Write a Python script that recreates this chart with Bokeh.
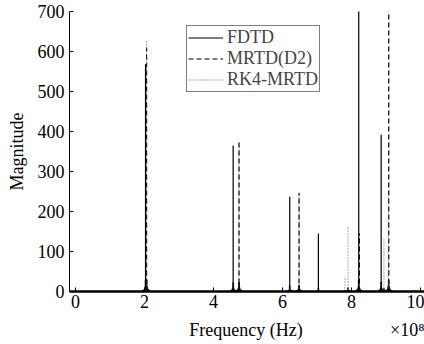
from bokeh.plotting import figure
from bokeh.models import Range1d, FixedTicker, Legend, LegendItem, LinearAxis
from bokeh.embed import file_html
from bokeh.resources import INLINE

# Peak positions (x 1e8 Hz) and magnitudes
fdtd_f = [2.03, 4.57, 6.21, 7.04, 8.21, 8.86]
fdtd_m = [568, 365, 237, 145, 760, 392]
mrtd_f = [2.06, 4.74, 6.48, 8.23, 9.08]
mrtd_m = [610, 377, 247, 145, 760]
rk4_f = [2.06, 4.74, 6.48, 7.81, 7.90, 8.94, 9.07]
rk4_m = [627, 375, 245, 35, 160, 135, 240]

x_ticks = [0, 2, 4, 6, 8, 10]
y_ticks = [0, 100, 200, 300, 400, 500, 600, 700]
x_title = "Frequency (Hz)"
x_scale = "×10⁸"
y_title = "Magnitude"

FONT = "Liberation Serif"

p = figure(width=424, height=344, output_backend="svg", toolbar_location=None,
           x_range=Range1d(-0.174, 10.116), y_range=Range1d(0, 700),
           min_border_left=69, min_border_right=0, min_border_top=11,
           min_border_bottom=53)
p.outline_line_color = None
p.grid.visible = False
p.background_fill_color = "white"

def base_shapes(fs, ms):
    xs, ys = [], []
    w = 0.13
    for f, m in zip(fs, ms):
        sh = min(m * 0.06, 28)
        xs.append([f - w, f - w * 0.3, f - w * 0.1, f - 0.015, f + 0.015,
                   f + w * 0.1, f + w * 0.3, f + w])
        ys.append([0, sh * 0.2, sh * 0.5, sh, sh, sh * 0.5, sh * 0.2, 0])
    return xs, ys

for fs, ms in [(fdtd_f, fdtd_m), (mrtd_f, mrtd_m), (rk4_f, rk4_m)]:
    bx, by = base_shapes(fs, ms)
    p.patches(bx, by, fill_color="black", line_color="black", line_width=0.5)

r1 = p.segment(x0=fdtd_f, y0=[0] * len(fdtd_f), x1=fdtd_f, y1=fdtd_m,
               line_color="black", line_width=1.2)
r2 = p.segment(x0=mrtd_f, y0=[0] * len(mrtd_f), x1=mrtd_f, y1=mrtd_m,
               line_color="black", line_width=1.2, line_dash="5 3")
r3 = p.segment(x0=rk4_f, y0=[0] * len(rk4_f), x1=rk4_f, y1=rk4_m,
               line_color="#555555", line_width=1.0, line_dash="1 2")

legend = Legend(items=[LegendItem(label="FDTD", renderers=[r1]),
                       LegendItem(label="MRTD(D2)", renderers=[r2]),
                       LegendItem(label="RK4-MRTD", renderers=[r3])],
                location=(117, 199))
legend.label_text_font = FONT
legend.label_text_font_size = "18px"
legend.label_height = 19
legend.glyph_height = 19
legend.glyph_width = 35
legend.label_standoff = 4
legend.spacing = 0
legend.padding = 1
legend.margin = 0
legend.border_line_color = "black"
legend.border_line_width = 1.5
legend.background_fill_alpha = 1
p.add_layout(legend, "center")

for ax in (p.xaxis, p.yaxis):
    ax.major_label_text_font = FONT
    ax.major_label_text_font_size = "18px"
    ax.axis_label_text_font = FONT
    ax.axis_label_text_font_size = "18px"
    ax.axis_label_text_font_style = "normal"
    ax.major_tick_in = 4
    ax.major_tick_out = 0
    ax.minor_tick_in = 0
    ax.minor_tick_out = 0
    ax.axis_line_color = "black"
    ax.major_tick_line_color = "black"
    ax.major_label_text_color = "black"
    ax.axis_label_text_color = "black"

p.xaxis.ticker = FixedTicker(ticks=x_ticks)
p.yaxis.ticker = FixedTicker(ticks=y_ticks)
p.xaxis.axis_line_width = 2.5
p.xaxis.major_label_standoff = 3
p.yaxis.axis_label = y_title
p.yaxis.major_label_standoff = 5
p.yaxis.axis_label_standoff = 8

# Second bottom axis carrying the axis title and the exponent factor
lab_axis = LinearAxis(ticker=FixedTicker(ticks=[4.94, 9.65]),
                      major_label_overrides={4.94: x_title, 9.65: x_scale})
lab_axis.axis_line_color = None
lab_axis.major_tick_line_color = None
lab_axis.minor_tick_line_color = None
lab_axis.major_label_text_font = FONT
lab_axis.major_label_text_font_size = "18px"
lab_axis.major_label_text_color = "black"
lab_axis.major_label_standoff = 3
p.add_layout(lab_axis, "below")

open("out.html", "w").write(file_html(p, INLINE))
